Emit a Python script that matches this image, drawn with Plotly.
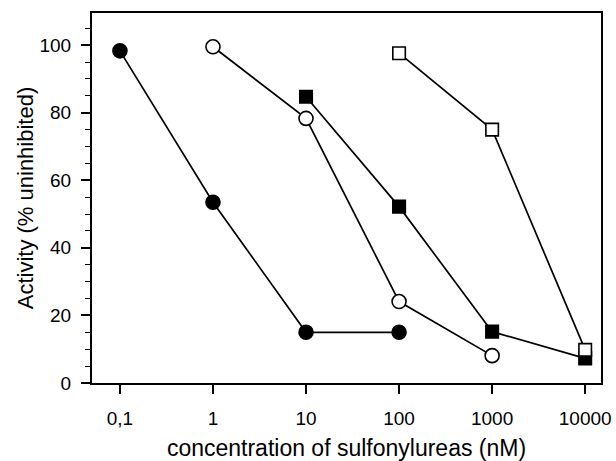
import plotly.graph_objects as go

# Data
conc_filled_circle = [0.1, 1, 10, 100]
act_filled_circle = [98.3, 53.5, 15.0, 15.0]

conc_open_circle = [1, 10, 100, 1000]
act_open_circle = [99.5, 78.3, 24.1, 8.1]

conc_filled_square = [10, 100, 1000, 10000]
act_filled_square = [84.7, 52.2, 15.2, 7.3]

conc_open_square = [100, 1000, 10000]
act_open_square = [97.6, 75.0, 9.8]

x_tickvals = [0.1, 1, 10, 100, 1000, 10000]
x_ticktext = ["0,1", "1", "10", "100", "1000", "10000"]
y_tickvals = [0, 20, 40, 60, 80, 100]

FONT = "Liberation Sans, Arial, sans-serif"

fig = go.Figure()

def add_series(x, y, symbol, fill, size):
    fig.add_trace(go.Scatter(
        x=x, y=y, mode="lines+markers",
        line=dict(color="black", width=1.7),
        marker=dict(symbol=symbol, size=size, color=fill,
                    line=dict(color="black", width=1.6)),
        showlegend=False, cliponaxis=False,
    ))

add_series(conc_filled_circle, act_filled_circle, "circle", "black", 14)
add_series(conc_open_circle, act_open_circle, "circle", "white", 14)
add_series(conc_filled_square, act_filled_square, "square", "black", 12.5)
add_series(conc_open_square, act_open_square, "square", "white", 12.5)

fig.update_layout(
    width=616, height=461,
    margin=dict(l=92, r=15, t=13, b=78, autoexpand=False),
    paper_bgcolor="white", plot_bgcolor="white",
    font=dict(family=FONT, color="black", size=19),
)

fig.update_xaxes(
    type="log", range=[-1.3, 4.17],
    tickvals=x_tickvals, ticktext=x_ticktext,
    ticks="outside", ticklen=9, tickwidth=1.6, tickcolor="black",
    showline=True, linecolor="black", linewidth=2, mirror=True,
    showgrid=False, zeroline=False, automargin=False,
    tickfont=dict(size=19), ticklabelstandoff=8,
    title=dict(text="concentration of sulfonylureas (nM)",
               font=dict(size=23), standoff=19),
)

fig.update_yaxes(
    range=[0, 109.5],
    tickvals=y_tickvals,
    ticks="outside", ticklen=9, tickwidth=1.6, tickcolor="black",
    minor=dict(dtick=5, tick0=0, ticks="outside", ticklen=5,
               tickwidth=1.4, tickcolor="black", showgrid=False),
    showline=True, linecolor="black", linewidth=2, mirror=True,
    showgrid=False, zeroline=False, automargin=False,
    tickfont=dict(size=19), ticklabelstandoff=6,
    title=dict(text="Activity (% uninhibited)", font=dict(size=22),
               standoff=0),
)

fig.write_html("out.html")
